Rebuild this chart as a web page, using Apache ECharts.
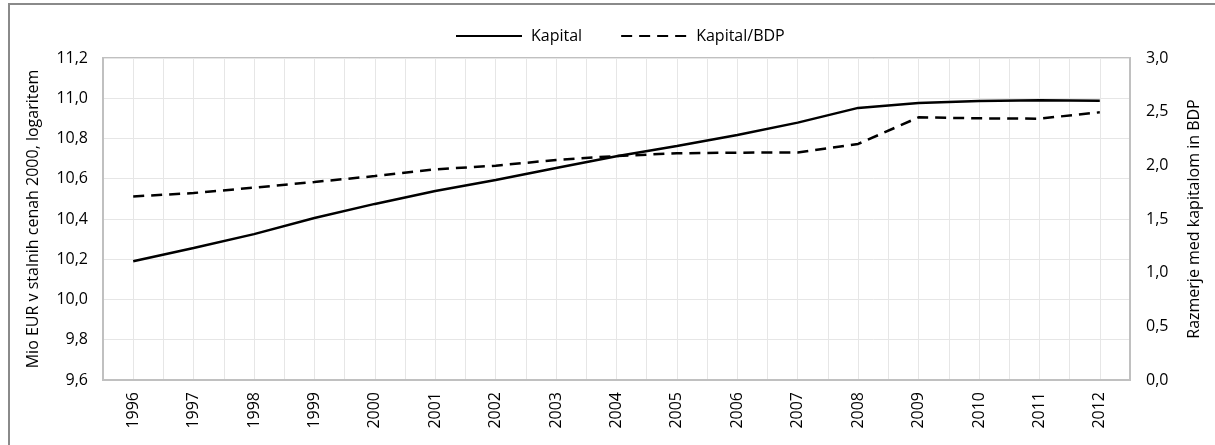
<!DOCTYPE html>
<html>
<head>
<meta charset="utf-8">
<script src="https://cdn.jsdelivr.net/npm/echarts@6/dist/echarts.min.js"></script>
<style>
  html, body { margin: 0; padding: 0; background: #fff; }
  #wrap { position: relative; width: 1215px; height: 445px; }
  #main { width: 1215px; height: 445px; }
  #frame {
    position: absolute; left: 8px; top: 3px; right: 0; bottom: 0;
    border-left: 2px solid #8a8a8a; border-top: 2px solid #8a8a8a;
    pointer-events: none;
  }
</style>
</head>
<body>
<div id="wrap">
  <div id="main"></div>
  <div id="frame"></div>
</div>
<script>
// leta
const years = ['1996', '1997', '1998', '1999', '2000', '2001', '2002', '2003', '2004',
  '2005', '2006', '2007', '2008', '2009', '2010', '2011', '2012']
// Kapital, logaritem (leva os)
const kapital = [10.19, 10.256, 10.325, 10.405, 10.475, 10.539, 10.594, 10.653, 10.712,
  10.763, 10.817, 10.879, 10.952, 10.976, 10.986, 10.99, 10.988]
// Kapital/BDP (desna os)
const kapitalBdp = [1.71, 1.742, 1.792, 1.845, 1.9, 1.963, 1.997, 2.05, 2.087,
  2.112, 2.118, 2.12, 2.199, 2.447, 2.438, 2.435, 2.494]

const fontFamily = '"Open Sans", "Noto Sans", sans-serif'
const comma = v => v.toFixed(1).replace('.', ',')

const myChart = echarts.init(document.getElementById('main'))
const option = {
  animation: false,
  textStyle: { fontFamily: fontFamily, color: '#000' },
  legend: {
    top: 23,
    left: 450,
    itemWidth: 66,
    itemHeight: 14,
    itemGap: 38,
    itemStyle: { opacity: 0 },
    textStyle: { fontSize: 16, color: '#000', fontFamily: fontFamily, padding: [0, 0, 0, 4] },
    data: ['Kapital', 'Kapital/BDP']
  },
  grid: {
    left: 103,
    right: 85,
    top: 58,
    bottom: 65,
    show: true,
    borderColor: '#c0c0c0',
    borderWidth: 2
  },
  xAxis: [
    {
      type: 'category',
      data: years,
      axisTick: { show: false },
      axisLine: { lineStyle: { color: '#c0c0c0', width: 2 } },
      splitLine: { show: false },
      axisLabel: { rotate: 90, margin: 12, fontSize: 16, color: '#000', fontFamily: fontFamily }
    },
    {
      // pomozna os za navpicne mreze na pol kategorije
      type: 'value',
      min: 0,
      max: years.length * 2,
      interval: 1,
      position: 'bottom',
      axisLine: { show: false },
      axisTick: { show: false },
      axisLabel: { show: false },
      splitLine: { show: true, lineStyle: { color: '#e6e6e6', width: 1 } }
    }
  ],
  yAxis: [
    {
      type: 'value',
      min: 9.6,
      max: 11.2,
      interval: 0.2,
      name: 'Mio EUR v stalnih cenah 2000, logaritem',
      nameLocation: 'middle',
      nameGap: 62,
      nameTextStyle: { fontSize: 16, color: '#000', fontFamily: fontFamily },
      axisLine: { show: true, lineStyle: { color: '#c0c0c0', width: 2 } },
      axisTick: { show: false },
      axisLabel: { margin: 15, fontSize: 16, color: '#000', formatter: comma },
      splitLine: { show: true, lineStyle: { color: '#e6e6e6', width: 1 } }
    },
    {
      type: 'value',
      min: 0,
      max: 3,
      interval: 0.5,
      position: 'right',
      name: 'Razmerje med kapitalom in BDP',
      nameLocation: 'middle',
      nameGap: 56,
      nameTextStyle: { fontSize: 16, color: '#000', fontFamily: fontFamily },
      axisLine: { show: true, lineStyle: { color: '#c0c0c0', width: 2 } },
      axisTick: { show: false },
      axisLabel: { margin: 16, fontSize: 16, color: '#000', formatter: comma },
      splitLine: { show: false }
    }
  ],
  series: [
    {
      name: 'Kapital',
      type: 'line',
      xAxisIndex: 0,
      yAxisIndex: 0,
      symbol: 'none',
      itemStyle: { color: '#000' },
      lineStyle: { color: '#000', width: 2.5 },
      data: kapital
    },
    {
      name: 'Kapital/BDP',
      type: 'line',
      xAxisIndex: 0,
      yAxisIndex: 1,
      symbol: 'none',
      itemStyle: { color: '#000' },
      lineStyle: { color: '#000', width: 2.5, type: [11, 7] },
      data: kapitalBdp
    }
  ]
}
option && myChart.setOption(option)
</script>
</body>
</html>
